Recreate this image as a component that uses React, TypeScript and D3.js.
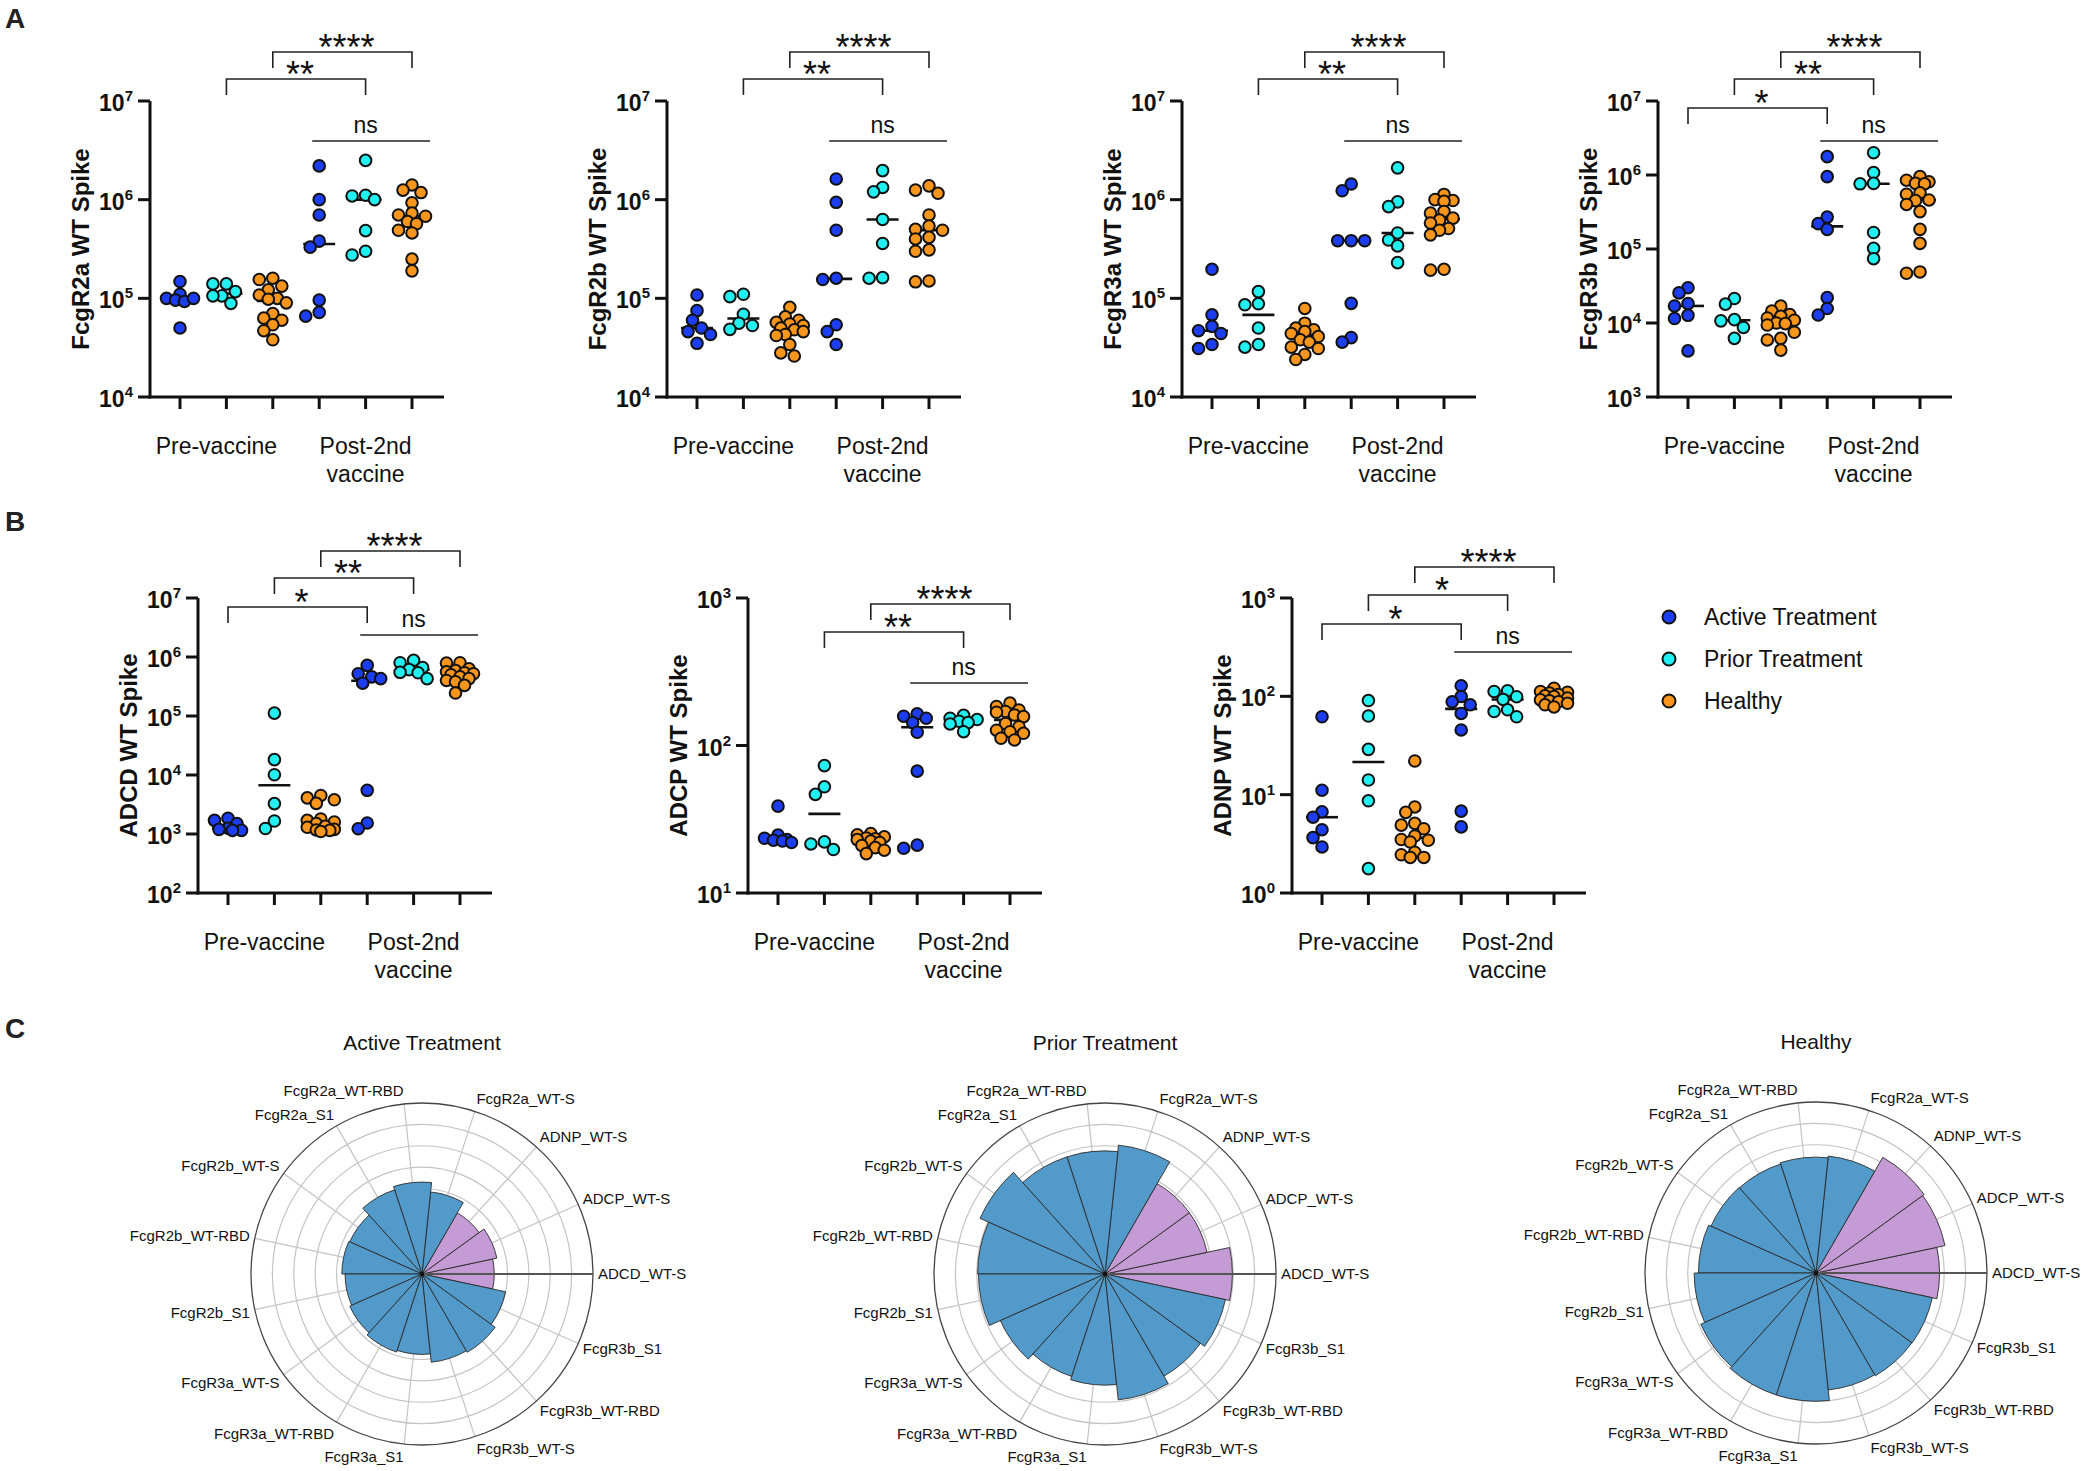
import React from 'react';
import * as d3 from 'd3';

const FONT = "'Liberation Sans', Arial, Helvetica, sans-serif";
const groupNames = ['Active Treatment', 'Prior Treatment', 'Healthy'];
const groupColors = ['#1c3ef0', '#22efef', '#f8951c'];
const timeLabels = ['Pre-vaccine', 'Post-2nd', 'vaccine'];

// order of each list: Active pre, Prior pre, Healthy pre, Active post, Prior post, Healthy post
const fcgr2aSpike = [
  [1.48e5, 1.1e5, 1.0e5, 9.6e4, 9.3e4, 1.0e5, 5.0e4],
  [1.4e5, 1.4e5, 1.17e5, 1.06e5, 1.06e5, 8.9e4],
  [1.6e5, 1.55e5, 1.33e5, 1.22e5, 1.08e5, 1.0e5, 9.8e4, 9.0e4, 7.0e4, 6.3e4, 6.0e4, 5.4e4, 4.7e4, 3.8e4],
  [2.2e6, 1.0e6, 7.0e5, 3.8e5, 3.3e5, 9.6e4, 7.2e4, 6.6e4],
  [2.5e6, 1.11e6, 1.09e6, 1.0e6, 4.85e5, 3.0e5, 2.75e5],
  [1.41e6, 1.25e6, 1.18e6, 9.3e5, 7.3e5, 7.0e5, 6.8e5, 6.0e5, 5.7e5, 4.9e5, 4.6e5, 2.5e5, 1.9e5],
];
const fcgr2bSpike = [
  [1.08e5, 7.5e4, 6.0e4, 5.0e4, 4.6e4, 4.3e4, 3.5e4],
  [1.1e5, 1.04e5, 6.9e4, 5.6e4, 5.3e4, 4.85e4],
  [8.1e4, 6.5e4, 6.0e4, 5.7e4, 5.5e4, 5.3e4, 5.0e4, 4.8e4, 4.6e4, 4.3e4, 4.2e4, 3.4e4, 2.8e4, 2.6e4],
  [1.62e6, 9.4e5, 4.9e5, 1.6e5, 1.55e5, 5.4e4, 4.6e4, 3.4e4],
  [1.97e6, 1.33e6, 1.2e6, 6.3e5, 3.6e5, 1.62e5, 1.6e5],
  [1.38e6, 1.25e6, 1.16e6, 7.0e5, 5.4e5, 5.0e5, 4.9e5, 4.15e5, 4.0e5, 3.1e5, 3.0e5, 1.5e5, 1.47e5],
];
const fcgr3aSpike = [
  [1.97e5, 6.8e4, 5.2e4, 4.7e4, 4.4e4, 3.4e4, 3.1e4],
  [1.17e5, 8.8e4, 8.6e4, 5.0e4, 3.4e4, 3.2e4],
  [7.9e4, 5.6e4, 5.0e4, 4.8e4, 4.6e4, 4.4e4, 4.1e4, 3.8e4, 3.6e4, 3.2e4, 3.1e4, 2.7e4, 2.4e4],
  [1.44e6, 1.23e6, 3.84e5, 3.84e5, 3.84e5, 8.9e4, 4.0e4, 3.6e4],
  [2.1e6, 9.5e5, 8.5e5, 4.6e5, 3.9e5, 3.4e5, 2.3e5],
  [1.13e6, 1.0e6, 9.8e5, 9.6e5, 7.6e5, 7.3e5, 6.5e5, 6.2e5, 5.8e5, 5.1e5, 4.9e5, 4.4e5, 1.97e5, 1.93e5],
];
const fcgr3bSpike = [
  [3.0e4, 2.55e4, 1.83e4, 1.7e4, 1.27e4, 1.15e4, 4.2e3],
  [2.14e4, 1.8e4, 1.11e4, 1.07e4, 8.7e3, 6.2e3],
  [1.69e4, 1.45e4, 1.3e4, 1.23e4, 1.17e4, 1.09e4, 1.0e4, 9.8e3, 9.4e3, 7.5e3, 6.2e3, 5.9e3, 4.3e3],
  [1.77e6, 9.5e5, 2.7e5, 2.2e5, 1.84e5, 2.2e4, 1.57e4, 1.28e4],
  [2.0e6, 1.08e6, 7.7e5, 7.6e5, 1.67e5, 1.02e5, 7.4e4],
  [9.5e5, 8.5e5, 8.1e5, 7.7e5, 7.6e5, 5.75e5, 5.5e5, 4.6e5, 4.5e5, 4.0e5, 3.2e5, 1.84e5, 1.19e5, 4.9e4, 4.7e4],
];
const adcdSpike = [
  [1.85e3, 1.7e3, 1.5e3, 1.25e3, 1.2e3, 1.15e3, 1.15e3],
  [1.12e5, 1.82e4, 1.01e4, 3.27e3, 1.66e3, 1.24e3],
  [4.5e3, 4.1e3, 3.8e3, 3.3e3, 1.8e3, 1.7e3, 1.6e3, 1.5e3, 1.35e3, 1.3e3, 1.2e3, 1.17e3, 1.15e3, 1.1e3],
  [7.2e5, 5.2e5, 4.6e5, 4.3e5, 3.6e5, 5.5e3, 1.54e3, 1.23e3],
  [8.8e5, 8.0e5, 6.6e5, 6.1e5, 5.5e5, 5.4e5, 4.3e5],
  [8.0e5, 7.9e5, 6.3e5, 5.9e5, 5.6e5, 5.4e5, 5.2e5, 5.0e5, 4.6e5, 4.3e5, 4.0e5, 3.8e5, 3.3e5, 2.45e5],
];
const adcpSpike = [
  [38.8, 24.7, 23.5, 23.0, 22.8, 22.5, 22.0],
  [73, 52.5, 46.6, 22.2, 21.5, 19.7],
  [25.3, 24.8, 24.0, 23.6, 23.3, 23.0, 22.5, 22.0, 21.0, 20.3, 19.5, 18.5],
  [164, 158, 153, 143, 123, 67, 21.1, 20.1],
  [160, 153, 150, 146, 143, 140, 124],
  [194, 184, 174, 170, 168, 161, 157, 141, 134, 127, 124, 121, 112, 109],
];
const adnpSpike = [
  [62, 11.1, 6.7, 5.9, 4.4, 3.66, 2.94],
  [90.6, 63, 28.9, 14.1, 8.66, 1.77],
  [22, 7.5, 6.6, 5.1, 4.9, 4.5, 3.8, 3.5, 3.44, 3.3, 2.6, 2.45, 2.3, 2.3],
  [128, 99.5, 88, 82, 67, 45.5, 6.8, 4.7],
  [114, 112, 99, 93, 73, 70, 62],
  [121, 112, 110, 108, 104, 101, 99.5, 96, 92, 90, 88, 85, 82, 78],
];

const radarCategories = [
  'ADCD_WT-S', 'ADCP_WT-S', 'ADNP_WT-S', 'FcgR2a_WT-S', 'FcgR2a_WT-RBD', 'FcgR2a_S1',
  'FcgR2b_WT-S', 'FcgR2b_WT-RBD', 'FcgR2b_S1', 'FcgR3a_WT-S', 'FcgR3a_WT-RBD', 'FcgR3a_S1',
  'FcgR3b_WT-S', 'FcgR3b_WT-RBD', 'FcgR3b_S1',
];
const functionalCount = 3;
const activeRadar = [3.38, 3.58, 3.3, 3.86, 4.3, 4.14, 3.7, 3.75, 3.6, 3.7, 3.84, 3.76, 4.15, 4.23, 4.0];
const priorRadar = [5.96, 4.88, 4.88, 6.06, 5.76, 5.76, 6.4, 5.96, 5.92, 5.36, 5.04, 5.2, 5.92, 5.52, 5.76];
const healthyRadar = [5.78, 6.17, 6.25, 5.5, 5.42, 5.36, 5.38, 5.5, 5.7, 5.9, 6.0, 6.0, 5.5, 5.55, 5.56];

type Bracket = { a: number; b: number; label: string; dy: number };
type Cfg = {
  title: string; data: number[][]; ax: number; top: number; bottom: number;
  domain: [number, number]; brackets: Bracket[]; nsDy: number;
};

const A_TOP = 101, A_BOT = 397, B_TOP = 598, B_BOT = 893;
const twoBr = (d1: number, d2: number): Bracket[] => [
  { a: 2, b: 5, label: '****', dy: d1 },
  { a: 1, b: 4, label: '**', dy: d2 },
];

const plots: Cfg[] = [
  { title: 'FcgR2a WT Spike', data: fcgr2aSpike, ax: 150, top: A_TOP, bottom: A_BOT, domain: [1e4, 1e7], brackets: twoBr(-49, -22), nsDy: 40 },
  { title: 'FcgR2b WT Spike', data: fcgr2bSpike, ax: 667, top: A_TOP, bottom: A_BOT, domain: [1e4, 1e7], brackets: twoBr(-49, -22), nsDy: 40 },
  { title: 'FcgR3a WT Spike', data: fcgr3aSpike, ax: 1182, top: A_TOP, bottom: A_BOT, domain: [1e4, 1e7], brackets: twoBr(-49, -22), nsDy: 40 },
  { title: 'FcgR3b WT Spike', data: fcgr3bSpike, ax: 1658, top: A_TOP, bottom: A_BOT, domain: [1e3, 1e7],
    brackets: [...twoBr(-49, -22), { a: 0, b: 3, label: '*', dy: 7 }], nsDy: 40 },
  { title: 'ADCD WT Spike', data: adcdSpike, ax: 198, top: B_TOP, bottom: B_BOT, domain: [1e2, 1e7],
    brackets: [...twoBr(-47, -20), { a: 0, b: 3, label: '*', dy: 9 }], nsDy: 37 },
  { title: 'ADCP WT Spike', data: adcpSpike, ax: 748, top: B_TOP, bottom: B_BOT, domain: [1e1, 1e3], brackets: twoBr(6, 34), nsDy: 85 },
  { title: 'ADNP WT Spike', data: adnpSpike, ax: 1292, top: B_TOP, bottom: B_BOT, domain: [1e0, 1e3],
    brackets: [{ a: 2, b: 5, label: '****', dy: -31 }, { a: 1, b: 4, label: '*', dy: -3 }, { a: 0, b: 3, label: '*', dy: 26 }], nsDy: 54 },
];

function swarm(ys: number[], minD = 10, step = 4.5, maxK = 3): number[] {
  const order = ys.map((py, i) => ({ py, i })).sort((p, q) => p.py - q.py);
  const placed: { x: number; y: number }[] = [];
  const res: number[] = new Array(ys.length).fill(0);
  const cands: number[] = [0];
  for (let k = 1; k <= maxK; k++) cands.push(-k * step, k * step);
  for (const p of order) {
    let best = 0, bestScore = -Infinity;
    for (const c of cands) {
      let md = Infinity;
      for (const q of placed) md = Math.min(md, Math.hypot(q.x - c, q.y - p.py));
      if (md >= minD) { best = c; break; }
      if (md > bestScore) { bestScore = md; best = c; }
    }
    placed.push({ x: best, y: p.py });
    res[p.i] = best;
  }
  return res;
}

function Scatter({ cfg }: { cfg: Cfg }) {
  const { ax, top, bottom, domain, title, data, brackets, nsDy } = cfg;
  const y = d3.scaleLog().domain(domain).range([bottom, top]);
  const x = d3.scalePoint<number>().domain(d3.range(6)).range([ax + 30, ax + 30 + 46.4 * 5]);
  const e0 = Math.round(Math.log10(domain[0]));
  const e1 = Math.round(Math.log10(domain[1]));
  const exps = d3.range(e0, e1 + 1);
  const xEnd = ax + 294;
  const nsY = top + nsDy;
  return (
    <g fontFamily={FONT}>
      <text transform={`translate(${ax - 70},${(top + bottom) / 2}) rotate(-90)`} textAnchor="middle" dy="0.36em"
        fontSize={24} fontWeight="bold" fill="#111">{title}</text>
      {exps.map((e) => (
        <g key={e}>
          <line x1={ax - 12} x2={ax} y1={y(Math.pow(10, e))} y2={y(Math.pow(10, e))} stroke="#111" strokeWidth={3} />
          <text x={ax - 17} y={y(Math.pow(10, e)) + 10} textAnchor="end" fontWeight="bold" fontSize={23} fill="#111">
            10<tspan fontSize={15} dy={-10}>{e}</tspan>
          </text>
        </g>
      ))}
      {d3.range(6).map((i) => (
        <line key={i} x1={x(i)} x2={x(i)} y1={bottom} y2={bottom + 12} stroke="#111" strokeWidth={3} />
      ))}
      <line x1={ax} x2={ax} y1={top} y2={bottom + 1.5} stroke="#111" strokeWidth={3} />
      <line x1={ax - 1.5} x2={xEnd} y1={bottom} y2={bottom} stroke="#111" strokeWidth={3} />
      <text x={x(1)! - 10} y={bottom + 57} textAnchor="middle" fontSize={23} fill="#111">{timeLabels[0]}</text>
      <text x={x(4)!} y={bottom + 57} textAnchor="middle" fontSize={23} fill="#111">{timeLabels[1]}</text>
      <text x={x(4)!} y={bottom + 85} textAnchor="middle" fontSize={23} fill="#111">{timeLabels[2]}</text>
      {brackets.map((b, k) => {
        const ly = top + b.dy;
        const x1 = x(b.a)!, x2 = x(b.b)!;
        return (
          <g key={k}>
            <path d={`M${x1},${ly + 16}V${ly}H${x2}V${ly + 16}`} fill="none" stroke="#222" strokeWidth={1.6} />
            <text x={(x1 + x2) / 2 + 4} y={ly + 8} textAnchor="middle" fontSize={36} fill="#111">{b.label}</text>
          </g>
        );
      })}
      <line x1={x(3)! - 7} x2={x(5)! + 18} y1={nsY} y2={nsY} stroke="#222" strokeWidth={1.6} />
      <text x={x(4)!} y={nsY - 8} textAnchor="middle" fontSize={23} fill="#111">ns</text>
      {data.map((vals, gi) => {
        const ys = vals.map((v) => y(v));
        const offs = swarm(ys);
        const med = y(d3.median(vals)!);
        const cx = x(gi)!;
        return (
          <g key={gi}>
            <line x1={cx - 16} x2={cx + 16} y1={med} y2={med} stroke="#111" strokeWidth={2.6} />
            {vals.map((v, i) => (
              <circle key={i} cx={cx + offs[i]} cy={ys[i]} r={5.8} fill={groupColors[gi % 3]} stroke="#111" strokeWidth={2} />
            ))}
          </g>
        );
      })}
    </g>
  );
}

function Radar({ cx, cy, radius, title, values }: { cx: number; cy: number; radius: number; title: string; values: number[] }) {
  const n = radarCategories.length;
  const step = (2 * Math.PI) / n;
  const r = d3.scaleLinear().domain([0, 8]).range([0, radius]);
  const arc = d3.arc<any>();
  const fs = 15;
  return (
    <g transform={`translate(${cx},${cy})`} fontFamily={FONT}>
      <text x={0} y={-224} textAnchor="middle" fontSize={21} fill="#111">{title}</text>
      {d3.range(1, 8).map((k) => (
        <circle key={k} r={r(k)} fill="none" stroke="#c4c4c4" strokeWidth={1.2} />
      ))}
      {radarCategories.map((c, i) =>
        i === 0 ? null : (
          <line key={c} x1={0} y1={0} x2={r(8) * Math.cos(i * step)} y2={-r(8) * Math.sin(i * step)}
            stroke="#c4c4c4" strokeWidth={1.2} />
        ))}
      {values.map((v, i) => (
        <path key={i}
          d={arc({ innerRadius: 0, outerRadius: r(v), startAngle: Math.PI / 2 - i * step - step / 2, endAngle: Math.PI / 2 - i * step + step / 2 }) || ''}
          fill={i < functionalCount ? '#c49bd4' : '#519ac9'} stroke="#2a2a2a" strokeWidth={0.9} />
      ))}
      <circle r={r(8)} fill="none" stroke="#444" strokeWidth={1.3} />
      <line x1={0} y1={0} x2={r(8)} y2={0} stroke="#555" strokeWidth={1.8} />
      <circle r={2.2} fill="#111" />
      {radarCategories.map((c, i) => {
        const th = i * step;
        const co = Math.cos(th), si = Math.sin(th);
        const anchor = co > 0.05 ? 'start' : co < -0.05 ? 'end' : 'middle';
        const lx = (radius + 5) * co;
        const ly = -(radius + 5) * si - 0.55 * fs * si;
        return (
          <text key={c} x={lx} y={ly} dy="0.35em" textAnchor={anchor} fontSize={fs} fill="#111">{c}</text>
        );
      })}
    </g>
  );
}

export default function App() {
  return (
    <svg width={2085} height={1471} viewBox="0 0 2085 1471" style={{ position: 'absolute', left: 0, top: 0, background: '#fff' }}>
      <rect width={2085} height={1471} fill="#fff" />
      <g fontFamily={FONT} fontWeight="bold" fontSize={28} fill="#222">
        <text x={5} y={28}>A</text>
        <text x={5} y={531}>B</text>
        <text x={5} y={1038}>C</text>
      </g>
      {plots.map((p, i) => <Scatter key={i} cfg={p} />)}
      <g fontFamily={FONT}>
        {groupNames.map((g, i) => (
          <g key={g}>
            <circle cx={1669} cy={617 + i * 42} r={6.5} fill={groupColors[i]} stroke="#111" strokeWidth={2} />
            <text x={1704} y={617 + i * 42} dy="0.35em" fontSize={23} fill="#111">{g}</text>
          </g>
        ))}
      </g>
      <Radar cx={422} cy={1274} radius={171} title="Active Treatment" values={activeRadar} />
      <Radar cx={1105} cy={1274} radius={171} title="Prior Treatment" values={priorRadar} />
      <Radar cx={1816} cy={1273} radius={171} title="Healthy" values={healthyRadar} />
    </svg>
  );
}
